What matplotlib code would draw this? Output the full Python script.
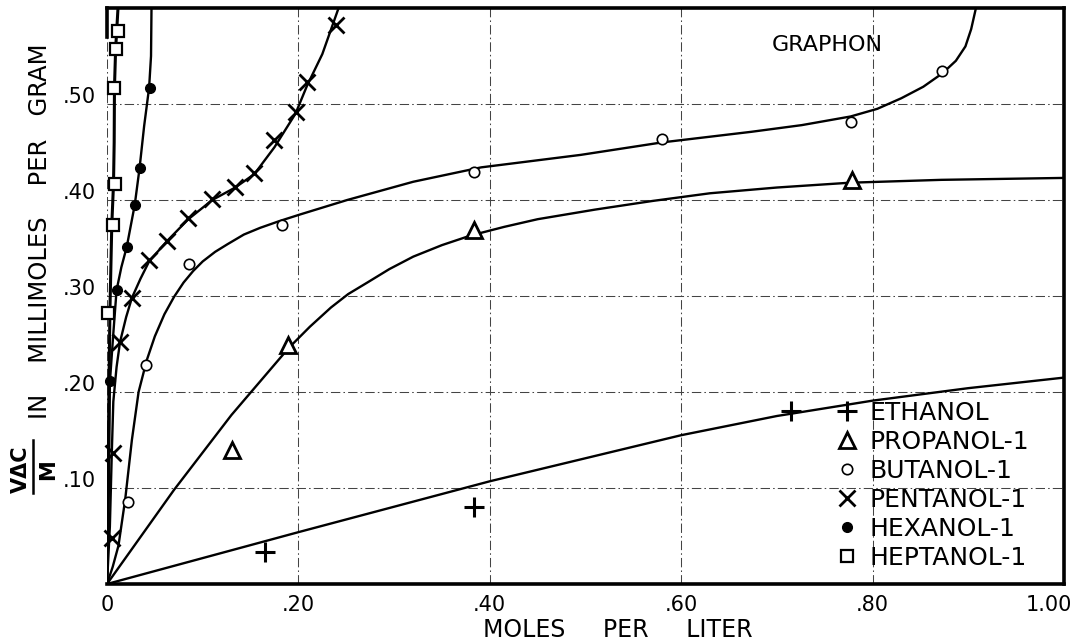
import matplotlib
matplotlib.use("Agg")
import matplotlib.pyplot as plt
from matplotlib.lines import Line2D
from matplotlib.transforms import ScaledTranslation

# measured points (moles per liter, millimoles per gram)
eth_x = [0.165, 0.384, 0.715]
eth_y = [0.033, 0.080, 0.180]
prop_x = [0.131, 0.189, 0.384, 0.778]
prop_y = [0.140, 0.249, 0.369, 0.421]
but_x = [0.022, 0.041, 0.086, 0.183, 0.383, 0.580, 0.777, 0.873]
but_y = [0.085, 0.228, 0.333, 0.374, 0.429, 0.464, 0.481, 0.534]
pent_x = [0.005, 0.0063, 0.0136, 0.026, 0.044, 0.0625, 0.085, 0.110, 0.134, 0.154, 0.175, 0.197, 0.209, 0.239]
pent_y = [0.048, 0.136, 0.252, 0.298, 0.337, 0.357, 0.381, 0.401, 0.414, 0.428, 0.462, 0.492, 0.523, 0.582]
hex_x = [0.003, 0.010, 0.0206, 0.029, 0.034, 0.045]
hex_y = [0.211, 0.306, 0.351, 0.395, 0.433, 0.517]
hept_x = [0.0014, 0.006, 0.0084, 0.0077, 0.009, 0.011]
hept_y = [0.282, 0.374, 0.417, 0.517, 0.557, 0.576]

# hand-drawn isotherm curves
eth_cx = [0, 0.2, 0.4, 0.5, 0.6, 0.7, 0.8, 0.9, 1.0]
eth_cy = [0, 0.054, 0.107, 0.131, 0.155, 0.175, 0.191, 0.204, 0.215]
prop_cx = [0, 0.07, 0.13, 0.19, 0.212, 0.234, 0.252, 0.272, 0.295, 0.32, 0.35, 0.38, 0.415, 0.45,
           0.51, 0.57, 0.63, 0.70, 0.776, 0.872, 1.0]
prop_cy = [0, 0.098, 0.176, 0.246, 0.268, 0.288, 0.302, 0.314, 0.328, 0.341, 0.353, 0.363, 0.372, 0.380,
           0.390, 0.399, 0.407, 0.413, 0.418, 0.421, 0.423]
but_cx = [0, 0.006, 0.012, 0.019, 0.026, 0.033, 0.0415, 0.050, 0.060, 0.070, 0.080, 0.090, 0.100,
          0.113, 0.126, 0.143, 0.160, 0.180, 0.202, 0.251, 0.320, 0.391, 0.495, 0.580, 0.673,
          0.726, 0.777, 0.805, 0.830, 0.853, 0.873, 0.887, 0.897, 0.903, 0.908]
but_cy = [0, 0.018, 0.040, 0.088, 0.150, 0.200, 0.233, 0.258, 0.281, 0.299, 0.314, 0.326, 0.336,
          0.346, 0.354, 0.364, 0.371, 0.378, 0.385, 0.400, 0.419, 0.434, 0.447, 0.460, 0.471,
          0.478, 0.487, 0.495, 0.506, 0.518, 0.532, 0.545, 0.560, 0.578, 0.600]
pent_cx = [0, 0.003, 0.005, 0.0066, 0.010, 0.0136, 0.020, 0.026, 0.035, 0.044, 0.0625, 0.085, 0.110,
           0.134, 0.154, 0.175, 0.197, 0.209, 0.225, 0.242]
pent_cy = [0, 0.06, 0.136, 0.19, 0.226, 0.252, 0.278, 0.298, 0.318, 0.336, 0.357, 0.380, 0.400,
           0.413, 0.427, 0.455, 0.490, 0.519, 0.552, 0.600]
hex_cx = [0, 0.002, 0.003, 0.0066, 0.010, 0.015, 0.0206, 0.029, 0.034, 0.0388, 0.044, 0.046, 0.0465]
hex_cy = [0, 0.10, 0.21, 0.261, 0.306, 0.330, 0.351, 0.395, 0.433, 0.477, 0.517, 0.55, 0.60]
hept_cx = [0, 0.001, 0.002, 0.003, 0.005, 0.0068, 0.0075, 0.0078, 0.009, 0.0115]
hept_cy = [0, 0.10, 0.20, 0.282, 0.374, 0.417, 0.46, 0.517, 0.557, 0.60]

xticks = [0, 0.2, 0.4, 0.6, 0.8, 1.0]
xtick_labels = ["0", ".20", ".40", ".60", ".80", "1.00"]
yticks = [0.1, 0.2, 0.3, 0.4, 0.5]
ytick_labels = [".10", ".20", ".30", ".40", ".50"]
names = ["ETHANOL", "PROPANOL-1", "BUTANOL-1", "PENTANOL-1", "HEXANOL-1", "HEPTANOL-1"]

plt.rcParams["font.family"] = "DejaVu Sans"

fig = plt.figure(figsize=(10.89, 6.44), dpi=100)
ax = fig.add_axes([107 / 1089, 60 / 644, 957 / 1089, 576 / 644])

lw = 1.7
ax.plot(eth_cx, eth_cy, color="black", lw=lw, solid_joinstyle="round")
ax.plot(prop_cx, prop_cy, color="black", lw=lw, solid_joinstyle="round")
ax.plot(but_cx, but_cy, color="black", lw=lw, solid_joinstyle="round")
ax.plot(pent_cx, pent_cy, color="black", lw=lw, solid_joinstyle="round")
ax.plot(hex_cx, hex_cy, color="black", lw=lw, solid_joinstyle="round")
ax.plot(hept_cx, hept_cy, color="black", lw=2.2, solid_joinstyle="round")

# point styles for each alcohol
sty = [
    dict(marker="+", ms=15, mew=2.2, mfc="none", mec="black"),
    dict(marker="^", ms=12, mew=2.0, mfc="white", mec="black"),
    dict(marker="o", ms=7.5, mew=1.2, mfc="white", mec="black"),
    dict(marker="x", ms=11, mew=2.0, mfc="none", mec="black"),
    dict(marker="o", ms=7, mew=1.0, mfc="black", mec="black"),
    dict(marker="s", ms=8, mew=1.6, mfc="white", mec="black"),
]
series = [(eth_x, eth_y), (prop_x, prop_y), (but_x, but_y),
          (pent_x, pent_y), (hex_x, hex_y), (hept_x, hept_y)]
for (sx, sy), st in zip(series, sty):
    ax.plot(sx, sy, ls="none", zorder=4, clip_on=False, **st)

ax.set_xlim(0, 1.0)
ax.set_ylim(0, 0.6)
ax.set_xticks(xticks)
ax.set_xticklabels(xtick_labels)
ax.set_yticks(yticks)
ax.set_yticklabels(ytick_labels)
ax.tick_params(length=0, labelsize=15, pad=8)
for lab in ax.get_yticklabels():
    lab.set_transform(lab.get_transform() + ScaledTranslation(0, 9 / 100, fig.dpi_scale_trans))
last = ax.get_xticklabels()[-1]
last.set_transform(last.get_transform() + ScaledTranslation(-15 / 100, 0, fig.dpi_scale_trans))

ax.grid(True, color="#444444", lw=0.75, linestyle=(0, (9, 3, 1.5, 3)))
ax.set_axisbelow(True)

for side in ["top", "right", "bottom"]:
    ax.spines[side].set_linewidth(2.6)
ax.spines["left"].set_linewidth(2.6)
ax.spines["left"].set_bounds(0.57, 0.6)

ax.text(0.753, 0.936, "GRAPHON", transform=ax.transAxes, fontsize=16,
        ha="center", va="center")

handles = [Line2D([], [], ls="none", **st) for st in sty]
leg = ax.legend(handles, names, loc="upper left", bbox_to_anchor=(0.763, 0.318),
                frameon=False, fontsize=18, handlelength=0.8, handletextpad=0.5,
                labelspacing=0.2, borderpad=0, borderaxespad=0)

# axis titles
fig.text(618 / 1089, 14 / 644, "MOLES     PER     LITER", fontsize=17,
         ha="center", va="center")
fig.text(40 / 1089, 1 - 231 / 644, "IN    MILLIMOLES    PER   GRAM", fontsize=17.5,
         rotation=90, ha="center", va="center")
fig.text(21 / 1089, 1 - 469 / 644, "V\u0394C", fontsize=15, fontweight="bold",
         rotation=90, ha="center", va="center")
fig.text(48 / 1089, 1 - 470 / 644, "M", fontsize=15, fontweight="bold",
         rotation=90, ha="center", va="center")
fig.add_artist(Line2D([33 / 1089, 33 / 1089], [1 - 493 / 644, 1 - 440 / 644],
                      color="black", lw=1.8, transform=fig.transFigure))

fig.savefig("out.png", dpi=100)
